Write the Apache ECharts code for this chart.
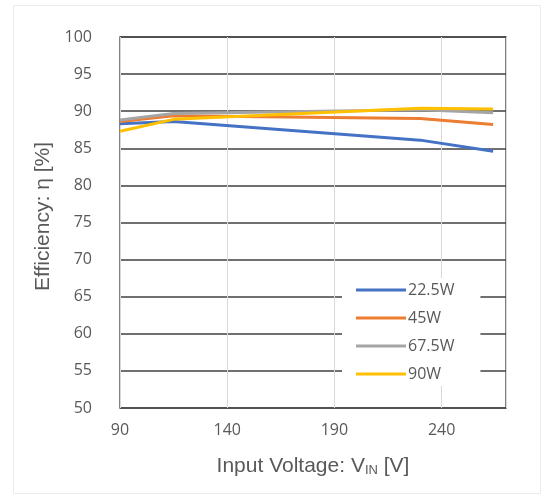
<!DOCTYPE html>
<html>
<head>
<meta charset="utf-8">
<script src="https://cdn.jsdelivr.net/npm/echarts@6/dist/echarts.min.js"></script>
<style>
  html, body { margin: 0; padding: 0; background: #fff; }
  #chart { width: 542px; height: 495px; }
</style>
</head>
<body>
<div id="chart"></div>
<script>
// input voltage [V]
const voltages = [90, 115, 230, 264]
// efficiency [%] per output power
const eff225 = [88.3, 88.6, 86.1, 84.6]
const eff45 = [88.6, 89.4, 89.0, 88.2]
const eff675 = [88.8, 89.7, 90.2, 89.8]
const eff90 = [87.3, 88.9, 90.4, 90.3]

const seriesNames = ['22.5W', '45W', '67.5W', '90W']
const seriesData = [eff225, eff45, eff675, eff90]
const colors = ['#4472c4', '#ed7d31', '#a5a5a5', '#ffc000']

const chart = echarts.init(document.getElementById('chart'))

const textColor = '#595959'
const font = 'Open Sans'
const nameFont = 'Liberation Sans'

chart.setOption({
  animation: false,
  color: colors,
  graphic: [{
    type: 'rect',
    shape: { x: 13.5, y: 5.5, width: 527, height: 488 },
    style: { fill: 'none', stroke: '#ebebeb', lineWidth: 1 },
    silent: true
  }],
  grid: {
    left: 120, right: 36, top: 37, bottom: 87,
    show: true,
    borderColor: '#595959',
    borderWidth: 1.5,
    backgroundColor: 'transparent'
  },
  legend: {
    orient: 'vertical',
    left: 342,
    top: 278,
    itemWidth: 50,
    itemHeight: 14,
    itemGap: 12,
    padding: [4, 26, 4, 14],
    backgroundColor: '#fff',
    icon: 'path://M0,0 L50,0 L50,3 L0,3 Z',
    textStyle: { color: textColor, fontSize: 16, fontFamily: font, padding: [0, 0, 0, -3] },
    data: seriesNames
  },
  xAxis: {
    type: 'value',
    min: 90,
    max: 270,
    interval: 50,
    name: 'Input Voltage: V{sub|IN} [V]',
    nameLocation: 'middle',
    nameGap: 47,
    nameTextStyle: {
      color: textColor, fontSize: 21, fontFamily: nameFont,
      rich: { sub: { fontSize: 13, color: textColor, fontFamily: nameFont, padding: [9, 0, 0, 0] } }
    },
    axisLine: { show: false },
    axisTick: { show: false },
    axisLabel: {
      color: textColor, fontSize: 16, fontFamily: font, margin: 14,
      showMaxLabel: false
    },
    splitLine: { lineStyle: { color: '#d9d9d9', width: 1 } }
  },
  yAxis: {
    type: 'value',
    min: 50,
    max: 100,
    interval: 5,
    name: 'Efficiency: η [%]',
    nameLocation: 'middle',
    nameGap: 65,
    nameTextStyle: {
      color: textColor, fontSize: 21, fontFamily: nameFont,
      padding: [0, 0, 0, 12]
    },
    axisLine: { show: false },
    axisTick: { show: false },
    axisLabel: { color: textColor, fontSize: 16, fontFamily: font, margin: 28 },
    splitLine: { lineStyle: { color: '#404040', width: 1.5 } }
  },
  series: seriesNames.map((name, i) => ({
    name: name,
    type: 'line',
    data: voltages.map((v, j) => [v, seriesData[i][j]]),
    showSymbol: false,
    lineStyle: { width: 3 },
    z: 2 + i
  }))
})
</script>
</body>
</html>
